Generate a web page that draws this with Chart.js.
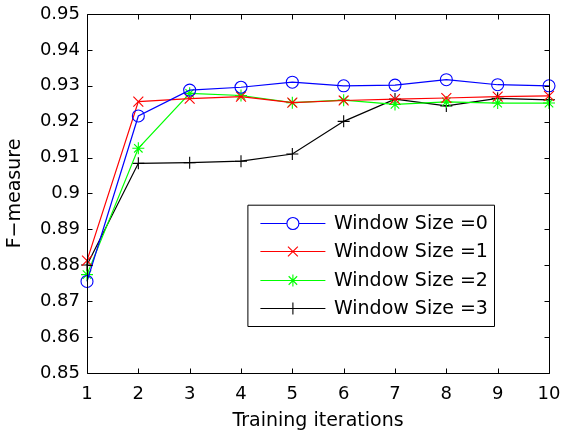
<!DOCTYPE html>
<html>
<head>
<meta charset="utf-8">
<script src="https://cdn.jsdelivr.net/npm/chart.js@4.4.0/dist/chart.umd.min.js"></script>
<style>
html,body{margin:0;padding:0;background:#fff;}
#wrap{width:563px;height:432px;}
</style>
</head>
<body>
<div id="wrap"><canvas id="c" width="563" height="432"></canvas></div>
<script>
const iterations = [1, 2, 3, 4, 5, 6, 7, 8, 9, 10];
const ws0 = [0.8755, 0.9216, 0.9288, 0.9296, 0.9310, 0.9300, 0.9302, 0.9317, 0.9303, 0.9300];
const ws1 = [0.8813, 0.9256, 0.9264, 0.9270, 0.9253, 0.9259, 0.9263, 0.9266, 0.9270, 0.9272];
const ws2 = [0.8774, 0.9126, 0.9279, 0.9273, 0.9253, 0.9260, 0.9248, 0.9255, 0.9252, 0.9252];
const ws3 = [0.8801, 0.9084, 0.9086, 0.9090, 0.9110, 0.9201, 0.9263, 0.9244, 0.9265, 0.9261];
const seriesNames = ['Window Size =0', 'Window Size =1', 'Window Size =2', 'Window Size =3'];
const yTicks = [0.85, 0.86, 0.87, 0.88, 0.89, 0.9, 0.91, 0.92, 0.93, 0.94, 0.95];
const xTitle = 'Training iterations';
const yTitle = 'F\u2212measure';

const FONT = 'DejaVu Sans';
Chart.defaults.font.family = FONT;
Chart.defaults.color = '#000';

function ds(label, data, color, style, radius) {
  return {
    label, data,
    borderColor: color, backgroundColor: 'rgba(0,0,0,0)',
    borderWidth: 1.2, pointStyle: style, pointRadius: radius,
    pointBorderColor: color, pointBackgroundColor: 'rgba(0,0,0,0)',
    pointBorderWidth: 1.1, tension: 0, fill: false, pointHoverRadius: radius
  };
}

const boxPlugin = {
  id: 'matlabBox',
  afterDraw(chart) {
    const ctx = chart.ctx;
    const a = chart.chartArea;
    const xs = chart.scales.x, ys = chart.scales.y;
    ctx.save();
    ctx.strokeStyle = '#000';
    ctx.lineWidth = 1;
    const L = Math.round(a.left) + 0.5, R = Math.round(a.right) + 0.5;
    const T = Math.round(a.top) + 0.5, B = Math.round(a.bottom) + 0.5;
    ctx.beginPath();
    ctx.rect(L, T, R - L, B - T);
    ctx.stroke();
    const tl = 5;
    ctx.beginPath();
    xs.ticks.forEach((t, i) => {
      const px = Math.round(xs.getPixelForTick(i)) + 0.5;
      ctx.moveTo(px, B); ctx.lineTo(px, B - tl);
      ctx.moveTo(px, T); ctx.lineTo(px, T + tl);
    });
    ys.ticks.forEach((t, i) => {
      const py = Math.round(ys.getPixelForValue(t.value)) + 0.5;
      ctx.moveTo(L, py); ctx.lineTo(L + tl, py);
      ctx.moveTo(R, py); ctx.lineTo(R - tl, py);
    });
    ctx.stroke();

    // legend inside the axes
    const bx0 = Math.round(a.right - 55) + 0.5;
    const bx1 = bx0 - 246.6;
    const by1 = Math.round(a.bottom - 47) + 0.5;
    const by0 = by1 - 121.3;
    ctx.fillStyle = '#fff';
    ctx.fillRect(bx1, by0, bx0 - bx1, by1 - by0);
    ctx.strokeStyle = '#000';
    ctx.beginPath();
    ctx.rect(bx1, by0, bx0 - bx1, by1 - by0);
    ctx.stroke();
    ctx.font = '19px "' + FONT + '"';
    ctx.textBaseline = 'middle';
    ctx.textAlign = 'left';
    chart.data.datasets.forEach((d, i) => {
      const y = Math.round(by0 + 18 + i * 28.2) + 0.5;
      const lx0 = bx1 + 12.5, lx1 = lx0 + 65;
      ctx.strokeStyle = d.borderColor;
      ctx.lineWidth = 1.2;
      ctx.beginPath();
      ctx.moveTo(lx0, y); ctx.lineTo(lx1, y);
      ctx.stroke();
      ctx.lineWidth = 1.1;
      Chart.helpers.drawPoint(ctx, {
        pointStyle: d.pointStyle, radius: d.pointRadius, borderWidth: 1.1
      }, (lx0 + lx1) / 2, y);
      ctx.fillStyle = '#000';
      ctx.fillText(d.label, bx1 + 86, y + 1);
    });
    ctx.restore();
  }
};

new Chart(document.getElementById('c'), {
  type: 'line',
  data: {
    labels: iterations,
    datasets: [
      ds(seriesNames[0], ws0, '#0000ff', 'circle', 6),
      ds(seriesNames[1], ws1, '#ff0000', 'crossRot', 7),
      ds(seriesNames[2], ws2, '#00ff00', 'star', 6),
      ds(seriesNames[3], ws3, '#000000', 'cross', 6)
    ]
  },
  options: {
    responsive: false,
    animation: false,
    devicePixelRatio: 1,
    layout: { padding: { top: 14, right: 14, left: 0, bottom: 0 } },
    plugins: { legend: { display: false }, tooltip: { enabled: false } },
    scales: {
      x: {
        type: 'category',
        offset: false,
        grid: { display: false, drawTicks: false },
        border: { display: false },
        ticks: { font: { size: 18 }, padding: 11, maxRotation: 0, autoSkip: false, color: '#000' },
        title: { display: true, text: xTitle, font: { size: 19 }, padding: { top: 0, bottom: 0 }, color: '#000' },
        afterFit(s) { s.height = 59; s.paddingLeft = 0; s.paddingRight = 0; }
      },
      y: {
        type: 'linear',
        min: 0.85, max: 0.95,
        grid: { display: false, drawTicks: false },
        border: { display: false },
        afterBuildTicks(s) { s.ticks = yTicks.map(v => ({ value: v })); },
        ticks: {
          font: { size: 18 }, padding: 7, color: '#000',
          callback: v => String(parseFloat(Number(v).toFixed(2)))
        },
        title: { display: true, text: yTitle, font: { size: 19 }, padding: { top: 4, bottom: 0 }, color: '#000' },
        afterFit(s) { s.width = 87; s.paddingTop = 0; s.paddingBottom = 0; }
      }
    }
  },
  plugins: [boxPlugin]
});
</script>
</body>
</html>
